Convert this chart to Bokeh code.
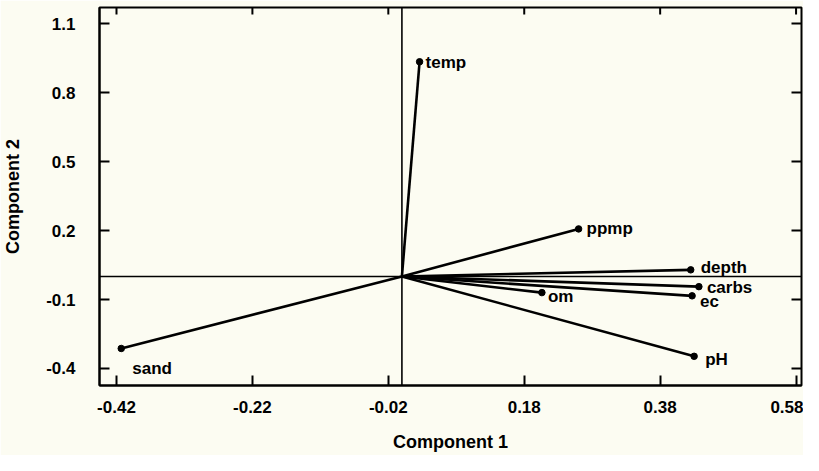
import math
from bokeh.plotting import figure
from bokeh.models import (ColumnDataSource, FixedTicker, PrintfTickFormatter, Range1d, Span)
from bokeh.embed import file_html
from bokeh.resources import INLINE
from bokeh.core.properties import value

# ---- data ----
variables = ["temp", "ppmp", "depth", "carbs", "ec", "om", "pH", "sand"]
comp1 = [0.026, 0.260, 0.425, 0.437, 0.427, 0.206, 0.430, -0.413]
comp2 = [0.934, 0.207, 0.029, -0.044, -0.084, -0.070, -0.347, -0.313]
x_ticks = [-0.42, -0.22, -0.02, 0.18, 0.38, 0.58]
y_ticks = [-0.4, -0.1, 0.2, 0.5, 0.8, 1.1]

# ---- layout / label placement (screen px offsets) ----
X_LO, X_HI = -0.445, 0.588
Y_LO, Y_HI = -0.474, 1.17
label_dx = [6, 8, 10, 8, 8, 6, 11, 11]
label_dy = [1, 0, -2, 1, 6, 4, 3, 20]

BG = "#fcfcf2"
FONT = "Liberation Sans"

src = ColumnDataSource(dict(
    x0=[0.0] * len(variables), y0=[0.0] * len(variables),
    x=comp1, y=comp2, name=variables, dx=label_dx, dy=label_dy,
))

p = figure(width=803, height=455, output_backend="svg", toolbar_location=None,
           x_range=Range1d(X_LO, X_HI), y_range=Range1d(Y_LO, Y_HI),
           background_fill_color=BG, border_fill_color=BG,
           min_border_left=87, min_border_right=2, min_border_top=7, min_border_bottom=70,
           x_axis_label="Component 1", y_axis_label="Component 2")
p.grid.visible = False
p.outline_line_color = "black"
p.outline_line_width = 2

for ax in (p.xaxis[0], p.yaxis[0]):
    ax.axis_line_width = 2
    ax.major_tick_in = 10
    ax.major_tick_out = 0
    ax.major_tick_line_width = 2
    ax.minor_tick_line_color = None
    ax.major_label_text_font = FONT
    ax.major_label_text_font_style = "bold"
    ax.major_label_text_font_size = "17px"
    ax.major_label_text_color = "black"
    ax.axis_label_text_font = FONT
    ax.axis_label_text_font_style = "bold"
    ax.axis_label_text_font_size = "18px"
    ax.axis_label_text_color = "black"

p.xaxis[0].ticker = FixedTicker(ticks=x_ticks)
p.xaxis[0].formatter = PrintfTickFormatter(format="%.2f")
p.xaxis[0].major_label_standoff = 15
p.xaxis[0].axis_label_standoff = 16
p.yaxis[0].ticker = FixedTicker(ticks=y_ticks)
p.yaxis[0].formatter = PrintfTickFormatter(format="%.1f")
p.yaxis[0].major_label_standoff = 24
p.yaxis[0].axis_label_standoff = 20

# inward ticks on the top and right frame edges
p.ray(x=x_ticks, y=[Y_HI] * len(x_ticks), length=7, length_units="screen",
      angle=-math.pi / 2, line_color="black", line_width=2)
p.ray(x=[X_HI] * len(y_ticks), y=y_ticks, length=10, length_units="screen",
      angle=math.pi, line_color="black", line_width=2)

p.add_layout(Span(location=0, dimension="width", line_color="black", line_width=1.6))
p.add_layout(Span(location=0, dimension="height", line_color="black", line_width=1.6))

p.segment(x0="x0", y0="y0", x1="x", y1="y", source=src, line_color="black", line_width=2.6)
p.scatter(x="x", y="y", source=src, size=6.5, color="black")
p.text(x="x", y="y", text="name", source=src, x_offset="dx", y_offset="dy",
       text_font=value(FONT), text_font_style="bold", text_font_size="17px",
       text_baseline="middle", text_align="left", text_color="black")

open("out.html", "w").write(file_html(p, INLINE))
